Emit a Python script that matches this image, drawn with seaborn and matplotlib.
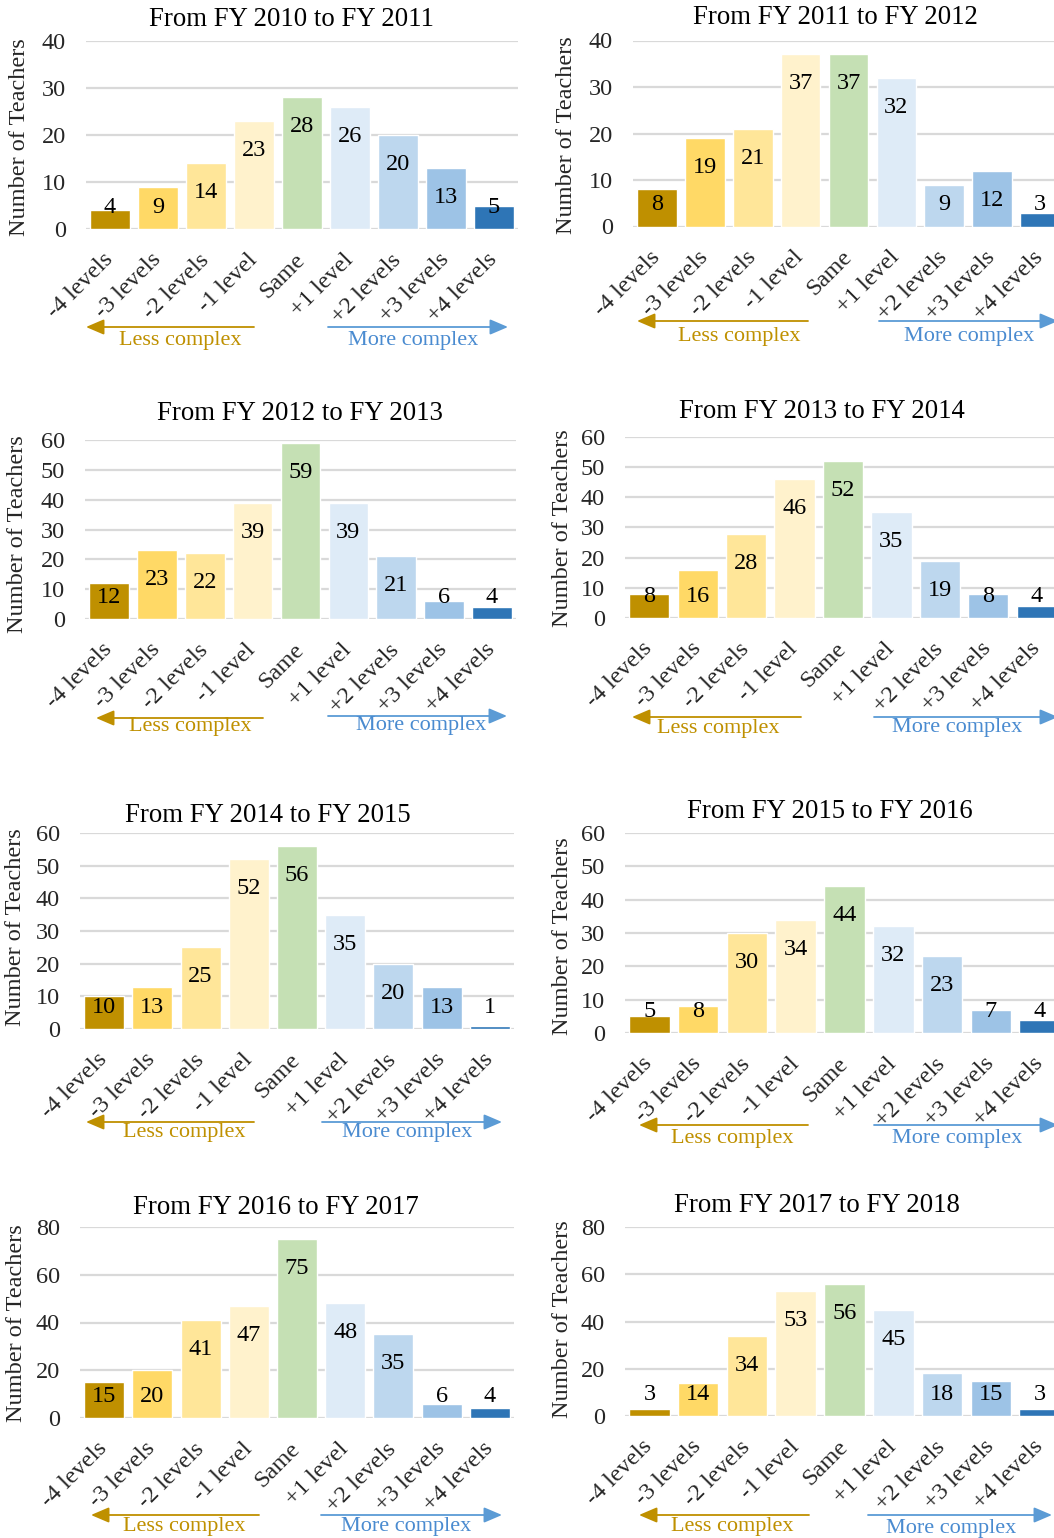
import matplotlib
matplotlib.use("Agg")
import matplotlib.pyplot as plt
from matplotlib.patches import ArrowStyle
import seaborn as sns

# Category labels and colours (darkest gold = biggest drop, darkest blue = biggest rise)
categories = ["-4 levels", "-3 levels", "-2 levels", "-1 level", "Same",
              "+1 level", "+2 levels", "+3 levels", "+4 levels"]
bar_colors = ["#BF9000", "#FFD966", "#FFE699", "#FFF2CC", "#C5E0B4",
              "#DEEBF7", "#BDD7EE", "#9DC3E6", "#2E75B6"]

# Number of teachers per change in complexity level, one list per year pair
fy2010_2011 = [4, 9, 14, 23, 28, 26, 20, 13, 5]
fy2011_2012 = [8, 19, 21, 37, 37, 32, 9, 12, 3]
fy2012_2013 = [12, 23, 22, 39, 59, 39, 21, 6, 4]
fy2013_2014 = [8, 16, 28, 46, 52, 35, 19, 8, 4]
fy2014_2015 = [10, 13, 25, 52, 56, 35, 20, 13, 1]
fy2015_2016 = [5, 8, 30, 34, 44, 32, 23, 7, 4]
fy2016_2017 = [15, 20, 41, 47, 75, 48, 35, 6, 4]
fy2017_2018 = [3, 14, 34, 53, 56, 45, 18, 15, 3]

titles = ["From FY 2010 to FY 2011", "From FY 2011 to FY 2012",
          "From FY 2012 to FY 2013", "From FY 2013 to FY 2014",
          "From FY 2014 to FY 2015", "From FY 2015 to FY 2016",
          "From FY 2016 to FY 2017", "From FY 2017 to FY 2018"]
series = [fy2010_2011, fy2011_2012, fy2012_2013, fy2013_2014,
          fy2014_2015, fy2015_2016, fy2016_2017, fy2017_2018]
y_max = [40, 40, 60, 60, 60, 60, 80, 80]
y_step = [10, 10, 10, 10, 10, 10, 20, 20]

# Panel geometry in pixels: plot-area left, right, top (y max), bottom (y = 0)
W, H = 1054, 1538
boxes = [(86, 518, 41, 229), (633, 1064, 40.5, 226.5),
         (85, 516, 440, 619), (625, 1061, 437, 618),
         (80, 514, 833, 1029), (625, 1064, 833, 1033),
         (80, 514, 1227, 1418), (625, 1064, 1227, 1416)]
title_pos = [(291, 19), (835, 18), (300, 413), (822, 411),
             (268, 815), (830, 812), (276, 1208), (817, 1205)]
ylabel_pos = [(20, 137), (567, 135), (18, 534), (563, 528),
              (16, 927), (563, 936), (17, 1323), (562, 1319)]
# Direction arrows: (head, tail, y, text x, text y) for "Less", (tail, head, y, text x, text y) for "More"
less_arrows = [(86, 254, 327, 180, 341), (637, 808, 321, 739, 337),
               (96, 263, 718, 190, 727), (632, 801, 717, 718, 729),
               (86, 254, 1122, 184, 1133), (639, 808, 1125, 732, 1138),
               (91, 259, 1515, 184, 1526), (639, 809, 1515, 732, 1526)]
more_arrows = [(328, 508, 327, 413, 341), (879, 1058, 321, 969, 337),
               (328, 507, 716, 421, 725), (874, 1058, 717, 957, 728),
               (322, 502, 1122, 407, 1133), (874, 1058, 1125, 957, 1138),
               (321, 502, 1515, 406, 1526), (868, 1052, 1515, 951, 1528)]

GOLD = "#BF9000"
BLUE = "#5B9BD5"
GRID = "#D9D9D9"

sns.set_theme(style="white")
plt.rcParams["font.family"] = ["Liberation Serif", "DejaVu Serif"]
plt.rcParams["text.color"] = "#000000"

fig = plt.figure(figsize=(W / 100, H / 100), dpi=100)
fig.patch.set_facecolor("white")


def fx(x):
    return x / W


def fy(y):
    return 1 - y / H


arrow_style = ArrowStyle("-|>", head_length=1.1, head_width=0.47)

for k in range(8):
    left, right, top, bottom = boxes[k]
    ax = fig.add_axes([fx(left), fy(bottom), (right - left) / W, (bottom - top) / H])
    vals = series[k]
    sns.barplot(x=categories, y=vals, order=categories, hue=categories,
                hue_order=categories, palette=bar_colors, saturation=1,
                legend=False, width=0.83, ax=ax, zorder=3)
    ax.set_xlim(-0.5, len(categories) - 0.5)
    ax.set_ylim(0, y_max[k])
    ax.set_yticks(range(0, y_max[k] + 1, y_step[k]))
    ax.set_axisbelow(True)
    ax.grid(axis="y", color=GRID, linewidth=1.6)
    ax.grid(axis="x", visible=False)
    for s in ax.spines.values():
        s.set_visible(False)
    ax.axhline(0, color=GRID, linewidth=2.0, zorder=2)
    ax.set_facecolor("white")
    ax.tick_params(axis="y", length=0, pad=14.4, labelsize=17.5)
    ax.tick_params(axis="x", length=0, pad=20, labelsize=17.5)
    ax.set_xticks(range(len(categories)))
    ax.set_xticklabels(categories, rotation=45, ha="right", va="center",
                       rotation_mode="anchor")
    ax.set_xlabel("")

    # y label placed in figure coordinates
    ax.set_ylabel("Number of Teachers", fontsize=17.5, va="center", ha="center")
    lx, ly = ylabel_pos[k]
    ax.yaxis.set_label_coords(fx(lx), fy(ly), transform=fig.transFigure)

    # value labels sit just inside the top of each bar, never below a minimum height
    ppu = (bottom - top) / y_max[k]
    for i, v in enumerate(vals):
        y_lab = max(v - 35 / ppu, 16 / ppu)
        ax.text(i, y_lab, str(v), ha="center", va="baseline",
                fontsize=17.5, color="#000000", zorder=5)

    tx, ty = title_pos[k]
    fig.text(fx(tx), fy(ty), titles[k], ha="center", va="center", fontsize=19.3)

    # "Less complex" arrow pointing left
    hx, tlx, ay, ltx, lty = less_arrows[k]
    fig.add_artist(plt.Annotation(
        "", xy=(fx(hx), fy(ay)), xytext=(fx(tlx), fy(ay)),
        xycoords="figure fraction", textcoords="figure fraction",
        arrowprops=dict(arrowstyle=arrow_style, color=GOLD, lw=1.3,
                        mutation_scale=10, shrinkA=0, shrinkB=0)))
    fig.text(fx(ltx), fy(lty), "Less complex", ha="center", va="center",
             fontsize=16, color=GOLD)

    # "More complex" arrow pointing right
    mtx, mhx, my, mtxt, mty = more_arrows[k]
    fig.add_artist(plt.Annotation(
        "", xy=(fx(mhx), fy(my)), xytext=(fx(mtx), fy(my)),
        xycoords="figure fraction", textcoords="figure fraction",
        arrowprops=dict(arrowstyle=arrow_style, color=BLUE, lw=1.3,
                        mutation_scale=10, shrinkA=0, shrinkB=0)))
    fig.text(fx(mtxt), fy(mty), "More complex", ha="center", va="center",
             fontsize=16, color="#4A8BD0")

fig.savefig("out.png", dpi=100, facecolor="white")
